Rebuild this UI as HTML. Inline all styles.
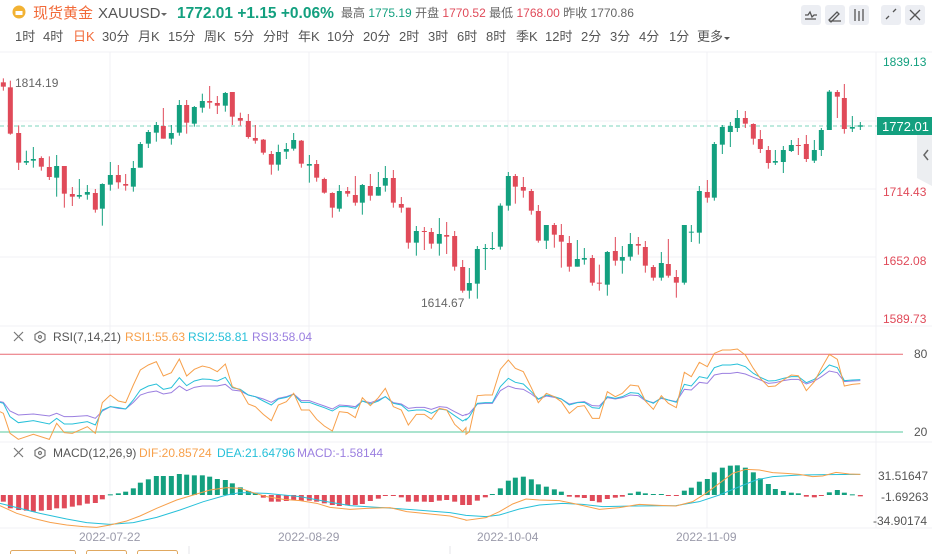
<!DOCTYPE html>
<html><head><meta charset="utf-8">
<style>
html,body{margin:0;padding:0;background:#fff;width:932px;height:554px;overflow:hidden;font-family:"Liberation Sans","Noto Sans CJK SC",sans-serif;}
svg{position:absolute;left:0;top:0}
</style></head><body>
<svg id="s" width="932" height="554" xmlns="http://www.w3.org/2000/svg" font-family="Liberation Sans, Noto Sans CJK SC, sans-serif">
<circle cx="19" cy="12" r="6.5" fill="#f2b233"/>
<rect x="15.5" y="11" width="7" height="4" fill="#fff"/>
<text x="33" y="18" font-size="15" fill="#f26b3a">现货黄金</text>
<text x="98" y="18" font-size="15" fill="#555">XAUUSD</text>
<path d="M161 13 l3 3 l3 -3z" fill="#666"/>
<text x="177" y="18" font-size="15.5" font-weight="bold" fill="#13a07f">1772.01  +1.15  +0.06%</text>
<text x="341" y="17" font-size="12" fill="#666">最高 <tspan fill="#13a07f">1775.19</tspan> 开盘 <tspan fill="#e04a59">1770.52</tspan> 最低 <tspan fill="#e04a59">1768.00</tspan> 昨收 <tspan fill="#666">1770.86</tspan></text>
<g fill="#eceef3">
<rect x="801" y="5" width="20" height="20" rx="3"/><rect x="825" y="5" width="20" height="20" rx="3"/><rect x="849" y="5" width="20" height="20" rx="3"/>
<rect x="881" y="5" width="20" height="20" rx="3"/><rect x="905" y="5" width="20" height="20" rx="3"/></g>
<g stroke="#555" stroke-width="1.3" fill="none">
<path d="M805 15 l3 0 l2 -3 l2 5 l2 -2 l3 0 M805 19 h11"/>
<path d="M829 20 l8 -8 l2 2 l-8 8z M829 21 h12"/>
<path d="M855 9 v12 M859 11 v10 M863 9 v12"/>
<path d="M886 19 l3 -3 M893 12 l3 -3"/>
<path d="M910 10 l10 10 M920 10 l-10 10"/>
</g>
<g font-size="13" fill="#555">
<text x="15" y="41">1时</text><text x="43" y="41">4时</text><text x="73" y="41" fill="#f26b3a">日K</text><text x="102" y="41">30分</text><text x="138" y="41">月K</text><text x="168" y="41">15分</text><text x="204" y="41">周K</text><text x="234" y="41">5分</text><text x="263" y="41">分时</text><text x="298" y="41">年K</text><text x="327" y="41">10分</text><text x="363" y="41">20分</text><text x="399" y="41">2时</text><text x="428" y="41">3时</text><text x="457" y="41">6时</text><text x="486" y="41">8时</text><text x="516" y="41">季K</text><text x="545" y="41">12时</text><text x="581" y="41">2分</text><text x="610" y="41">3分</text><text x="639" y="41">4分</text><text x="669" y="41">1分</text><text x="697" y="41">更多</text>
</g>
<path d="M724 37 l3 3 l3 -3z" fill="#555"/>
<g stroke="#f0f1f4" stroke-width="1">
<line x1="0" y1="52" x2="932" y2="52"/>
<line x1="0" y1="121" x2="876" y2="121"/>
<line x1="0" y1="189" x2="876" y2="189"/>
<line x1="0" y1="257" x2="876" y2="257"/>
<line x1="0" y1="326" x2="932" y2="326"/>
<line x1="0" y1="442" x2="932" y2="442"/>
<line x1="0" y1="528" x2="932" y2="528"/>
<line x1="110" y1="52" x2="110" y2="528"/>
<line x1="309" y1="52" x2="309" y2="528"/>
<line x1="508" y1="52" x2="508" y2="528"/>
<line x1="707" y1="52" x2="707" y2="528"/>
<line x1="876" y1="52" x2="876" y2="528"/>
</g>
<g font-size="12">
<text x="883" y="66" fill="#13a07f">1839.13</text>
<text x="883" y="196" fill="#e04a59">1714.43</text>
<text x="883" y="265" fill="#e04a59">1652.08</text>
<text x="883" y="323" fill="#e04a59">1589.73</text>
<text x="15" y="87" fill="#666">1814.19</text>
<text x="421" y="307" fill="#666">1614.67</text>
</g>
<line x1="0" y1="126" x2="877" y2="126" stroke="#a8e3d3" stroke-width="1.5" stroke-dasharray="4,3"/>
<rect x="877" y="117" width="55" height="18" fill="#13a07f"/>
<text x="882" y="131" font-size="13" fill="#fff">1772.01</text>
<path d="M917 135 H932 V186 L917 178z" fill="#eceef1"/>
<path d="M928 150 l-4 5 l4 5" stroke="#666" stroke-width="1.5" fill="none"/>
<g id="candles"></g>
<g stroke="#777" stroke-width="1.2" fill="none"><path d="M14 332 l9 9 M23 332 l-9 9"/><path d="M40 331.5 l5 3 v5 l-5 3 l-5 -3 v-5z"/><circle cx="40" cy="337" r="1.5"/></g>
<text x="53" y="341" font-size="12" fill="#555">RSI(7,14,21)</text>
<text x="125" y="341" font-size="12" fill="#f7a04b">RSI1:55.63</text>
<text x="188" y="341" font-size="12" fill="#27c0d9">RSI2:58.81</text>
<text x="252" y="341" font-size="12" fill="#9b7fe0">RSI3:58.04</text>
<line x1="0" y1="354.3" x2="903" y2="354.3" stroke="#e86a74" stroke-width="1"/>
<line x1="0" y1="432" x2="903" y2="432" stroke="#8fdcbf" stroke-width="1.5"/>
<text x="914" y="358" font-size="12" fill="#555">80</text>
<text x="914" y="436" font-size="12" fill="#555">20</text>
<g id="rsi" fill="none" stroke-width="1"></g>
<g stroke="#777" stroke-width="1.2" fill="none"><path d="M14 448 l9 9 M23 448 l-9 9"/><path d="M40 447.5 l5 3 v5 l-5 3 l-5 -3 v-5z"/><circle cx="40" cy="453" r="1.5"/></g>
<text x="53" y="457" font-size="12" fill="#555">MACD(12,26,9)</text>
<text x="139" y="457" font-size="12" fill="#f7a04b">DIF:20.85724</text>
<text x="217" y="457" font-size="12" fill="#27c0d9">DEA:21.64796</text>
<text x="297" y="457" font-size="12" fill="#9b7fe0">MACD:-1.58144</text>
<g id="macd"></g>
<g font-size="12" fill="#555">
<text x="878" y="480">31.51647</text><text x="881" y="501">-1.69263</text><text x="873" y="525">-34.90174</text>
</g>
<g font-size="12" fill="#9a9aaa">
<text x="79" y="541">2022-07-22</text><text x="278" y="541">2022-08-29</text><text x="477" y="541">2022-10-04</text><text x="676" y="541">2022-11-09</text>
</g>
<g stroke="#e0a860" fill="none"><rect x="10.5" y="550.5" width="65" height="10" rx="2"/><rect x="86.5" y="550.5" width="40" height="10" rx="2"/><rect x="137.5" y="550.5" width="40" height="10" rx="2"/></g>
<g stroke="#e6e6ea"><line x1="189" y1="546" x2="189" y2="554"/><line x1="450" y1="546" x2="450" y2="554"/></g>
</svg>
<script>
var G="#13a07f",R="#e04a59",NS="http://www.w3.org/2000/svg";
function el(p,t,a){var e=document.createElementNS(NS,t);for(var k in a)e.setAttribute(k,a[k]);p.appendChild(e);return e;}
var L=[[10,67,80,55,92,'r'],[31,82,221,62,224,'r'],[56,219,308,196,330,'r'],[79,303,308,272,315,'g'],[100,297,302,261,323,'g'],[124,294,320,289,332,'r'],[148,321,351,289,360,'r'],[170,318,353,285,410,'g'],[193,318,401,318,443,'r'],[217,402,410,381,438,'r'],[238,405,410,357,416,'g'],[262,396,404,375,419,'g'],[286,399,449,387,458,'r'],[307,372,446,370,497,'g'],[331,345,374,306,392,'g'],[355,345,367,315,386,'r'],[377,372,377,342,392,'r'],[400,324,380,303,395,'g'],[421,252,323,246,323,'g'],[445,216,251,210,264,'g'],[469,195,218,186,245,'g'],[490,198,236,144,236,'r'],[514,219,236,195,254,'g'],[538,135,218,120,227,'g'],[560,135,188,120,221,'r'],[583,141,191,138,200,'g'],[607,123,143,101,158,'g'],[629,123,128,78,146,'r'],[652,129,137,108,162,'r'],[676,99,137,96,155,'g'],[697,96,170,96,195,'r'],[721,174,182,158,197,'r'],[745,183,231,162,236,'r'],[766,234,242,195,251,'r'],[790,239,278,237,284,'r'],[814,282,314,273,344,'r'],[835,276,314,254,332,'g'],[859,267,275,249,297,'g'],[881,240,266,219,272,'g'],[904,242,311,240,323,'r'],[928,312,317,285,368,'g'],[950,312,353,300,365,'r'],[973,357,398,353,401,'r'],[997,399,443,397,473,'r'],[1018,393,446,375,455,'g'],[1043,393,401,381,410,'r'],[1066,405,428,348,437,'r'],[1087,375,428,372,464,'g'],[1111,378,407,342,422,'r'],[1135,381,407,336,407,'g'],[1156,354,377,318,395,'g'],[1180,354,428,330,443,'r'],[1204,432,443,411,458,'r'],[1225,443,548,443,566,'r'],[1249,513,548,498,587,'g'],[1273,513,516,501,570,'r'],[1294,516,551,504,566,'r'],[1318,522,551,474,587,'g'],[1340,525,530,486,582,'r'],[1364,528,620,513,632,'r'],[1388,621,692,600,698,'r']];
var Rr=[[10,669,692,624,716,'g'],[34,567,671,558,716,'g'],[58,564,567,552,630,'g'],[79,564,567,516,570,'g'],[103,437,560,430,569,'g'],[127,348,437,336,452,'g'],[148,348,380,342,431,'r'],[172,381,392,351,413,'r'],[196,393,452,387,464,'r'],[217,453,542,435,548,'r'],[241,495,542,495,567,'g'],[265,495,524,489,563,'r'],[286,525,545,492,623,'r'],[310,549,620,528,635,'r'],[334,597,620,540,620,'g'],[355,594,599,564,614,'g'],[379,594,668,585,677,'r'],[400,668,670,614,692,'r'],[424,576,674,573,707,'g'],[448,573,602,531,617,'r'],[469,591,602,558,641,'g'],[493,552,590,519,602,'g'],[517,552,557,531,584,'r'],[538,561,617,543,638,'r'],[562,621,653,615,662,'r'],[586,609,653,576,662,'g'],[607,612,647,537,653,'r'],[631,651,668,630,713,'r'],[655,495,668,495,674,'g'],[676,515,518,495,546,'g'],[700,393,518,378,551,'g'],[724,396,413,360,428,'r'],[745,252,413,246,422,'g'],[769,201,254,195,282,'g'],[793,198,216,186,261,'g'],[814,174,204,150,216,'g'],[838,174,191,153,204,'r'],[862,192,236,190,254,'r'],[883,237,267,210,279,'r'],[907,270,309,258,326,'r'],[928,303,308,270,315,'g'],[952,270,306,258,339,'g'],[976,255,273,240,276,'g'],[997,255,258,234,285,'r'],[1021,252,297,225,306,'r'],[1045,270,302,240,309,'g'],[1066,210,270,204,288,'g'],[1090,95,210,90,210,'g'],[1114,96,110,90,174,'r'],[1135,114,207,72,221,'r'],[1159,201,206,168,216,'g'],[1183,196,200,186,210,'g']];
var cg=document.getElementById('candles');
function drawC(arr,off){arr.forEach(function(c){var x=c[0]/3+off,col=c[5]=='g'?G:R;
el(cg,'line',{x1:x,x2:x,y1:c[3]/3+60,y2:c[4]/3+60,stroke:col,'stroke-width':1});
var t=c[1]/3+60,b=c[2]/3+60;if(b-t<1)b=t+1;el(cg,'rect',{x:x-2.5,y:t,width:5,height:b-t,fill:col});});}
drawC(L,0);drawC(Rr,466);
function poly(g,l,r,col,yo){var pts=l.map(function(p){return (p[0]/3)+','+(p[1]/3+yo)}).concat(r.map(function(p){return (p[0]/3+466)+','+(p[1]/3+yo)}));el(g,'polyline',{points:pts.join(' '),stroke:col,fill:'none','stroke-width':1});}
function P(s){return s.match(/-?\d+/g).map(Number).reduce(function(a,v,i,A){if(i%2==0)a.push([v,A[i+1]]);return a;},[]);}
var rg=document.getElementById('rsi');
poly(rg,P("(0,230),(10,232),(30,258),(55,270),(100,267),(148,273),(170,265),(193,275),(217,275),(262,272),(286,280),(307,258),(331,245),(355,250),(377,252),(400,232),(421,210),(445,202),(469,198),(490,207),(514,203),(538,183),(560,197),(583,187),(607,183),(629,183),(652,183),(676,178),(697,195),(721,198),(745,210),(766,215),(790,222),(814,232),(835,220),(859,215),(881,207),(904,227),(928,227),(950,235),(973,243),(997,252),(1018,240),(1043,242),(1066,245),(1087,228),(1111,233),(1135,225),(1156,215),(1180,233),(1204,237),(1225,250),(1249,247),(1273,247),(1294,253),(1318,245),(1340,247),(1364,260),(1388,272),(1398,268)"),P("(0,270),(10,265),(34,237),(58,235),(79,235),(103,197),(127,183),(148,190),(172,193),(196,207),(217,223),(241,213),(265,217),(286,222),(310,237),(334,232),(355,230),(379,242),(400,243),(424,218),(448,222),(469,218),(493,210),(517,212),(538,227),(562,233),(586,220),(607,225),(631,230),(655,193),(676,195),(700,172),(724,175),(745,150),(769,145),(793,145),(814,142),(838,147),(862,157),(883,165),(907,175),(928,173),(952,167),(976,163),(997,163),(1021,177),(1045,168),(1066,155),(1090,138),(1114,143),(1135,170),(1159,168),(1183,167)"),"#9b7fe0",325);
poly(rg,P("(0,232),(10,235),(30,275),(55,293),(100,287),(148,297),(170,280),(193,297),(217,297),(262,290),(286,300),(307,255),(331,245),(355,248),(377,252),(400,225),(421,195),(445,183),(469,177),(490,193),(514,188),(538,158),(560,182),(583,168),(607,162),(629,163),(652,168),(676,157),(697,188),(721,193),(745,210),(766,215),(790,228),(814,240),(835,222),(859,217),(881,208),(904,232),(928,232),(950,240),(973,248),(997,258),(1018,245),(1043,245),(1066,250),(1087,228),(1111,237),(1135,228),(1156,215),(1180,235),(1204,240),(1225,258),(1249,255),(1273,255),(1294,265),(1318,252),(1340,255),(1364,272),(1388,288),(1398,282)"),P("(0,285),(10,275),(34,235),(58,233),(79,233),(103,185),(127,160),(148,172),(172,177),(196,200),(217,222),(241,210),(265,215),(286,222),(310,240),(334,233),(355,232),(379,248),(400,250),(424,215),(448,220),(469,215),(493,203),(517,205),(538,225),(562,235),(586,218),(607,225),(631,232),(655,178),(676,183),(700,155),(724,160),(745,128),(769,120),(793,120),(814,117),(838,125),(862,145),(883,157),(907,168),(928,167),(952,160),(976,155),(997,155),(1021,173),(1045,163),(1066,143),(1090,120),(1114,128),(1135,167),(1159,165),(1183,164)"),"#27c0d9",325);
poly(rg,P("(0,260),(10,265),(30,325),(55,343),(100,328),(148,343),(170,295),(193,323),(217,325),(262,305),(286,325),(307,233),(331,210),(355,228),(377,233),(400,180),(421,135),(445,120),(469,110),(490,153),(514,143),(538,102),(560,153),(583,133),(607,123),(629,128),(652,140),(676,117),(697,185),(721,195),(745,237),(766,245),(790,268),(814,287),(835,240),(859,230),(881,205),(904,255),(928,255),(950,283),(973,303),(997,318),(1018,260),(1043,263),(1066,278),(1087,218),(1111,242),(1135,218),(1156,190),(1180,245),(1204,255),(1225,300),(1249,268),(1273,268),(1294,283),(1318,250),(1340,255),(1364,298),(1388,320),(1398,308)"),P("(0,328),(10,320),(34,212),(58,210),(79,210),(103,133),(127,105),(148,130),(172,140),(196,188),(217,233),(241,205),(265,215),(286,230),(310,265),(334,245),(355,242),(379,280),(400,280),(424,200),(448,215),(469,205),(493,180),(517,183),(538,228),(562,253),(586,212),(607,235),(631,248),(655,142),(676,155),(700,112),(724,125),(745,85),(769,75),(793,75),(814,72),(838,90),(862,130),(883,160),(907,185),(928,183),(952,165),(976,150),(997,152),(1021,197),(1045,170),(1066,130),(1090,88),(1114,103),(1135,183),(1159,178),(1183,176)"),"#f7a04b",325);
var mg=document.getElementById('macd');
var hl=[185,205,210,212,215,212,210,205,205,200,196,191,189,178,163,160,155,145,128,118,108,108,108,102,104,106,106,110,117,120,130,142,153,160,173,185,185,183,180,183,182,185,190,195,198,196,195,192,183,176,168,168,172,185,185,185,186,182,180,185,195];
var hr=[195,182,172,162,145,122,113,110,118,133,140,148,155,170,172,174,183,187,177,173,170,160,155,160,162,162,168,168,152,143,125,117,97,83,77,76,83,97,115,132,147,153,158,160,170,172,168,157,150,158,163,169];
var z=165;
function bars(h,arr,off){h.forEach(function(v,i){var x=arr[i][0]/3+off;var y1=Math.min(v,z)/3+440,y2=Math.max(v,z)/3+440;var col=v<z?G:R;if(y2-y1<1){y2=y1+1;}el(mg,'rect',{x:x-2.5,y:y1,width:5,height:y2-y1,fill:col});});}
bars(hl,L,0);bars(hr,Rr,466);
poly(mg,P("(0,190),(60,205),(120,220),(200,237),(260,248),(330,253),(400,248),(470,232),(540,210),(610,185),(680,165),(720,158),(800,160),(900,170),(980,185),(1050,197),(1150,203),(1250,210),(1350,218),(1398,226)"),P("(0,226),(60,230),(100,225),(160,207),(220,195),(290,190),(350,193),(410,200),(500,198),(630,197),(700,185),(760,165),(820,140),(870,120),(920,110),(1000,105),(1080,104),(1183,103)"),"#27c0d9",440);
poly(mg,P("(0,197),(50,220),(100,235),(150,247),(200,255),(250,260),(290,262),(330,255),(380,243),(420,228),(470,205),(530,180),(580,165),(630,150),(680,143),(720,145),(760,158),(800,170),(850,178),(900,182),(950,190),(990,202),(1050,208),(1100,205),(1170,203),(1220,215),(1290,222),(1350,228),(1398,240)"),P("(0,241),(60,233),(100,215),(140,192),(180,177),(220,180),(280,182),(330,192),(400,208),(460,203),(520,193),(580,196),(630,198),(680,185),(720,160),(760,130),(800,100),(840,88),(880,90),(920,98),(960,100),(1000,103),(1040,110),(1070,108),(1110,97),(1150,102),(1183,103)"),"#f7a04b",440);
</script>
</body></html>
